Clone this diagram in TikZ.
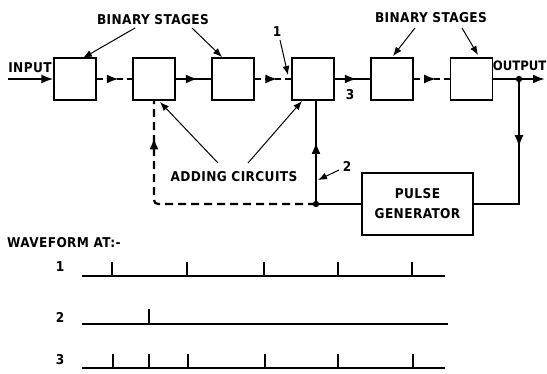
\documentclass[tikz,border=0pt]{standalone}
\usepackage{fontspec}
\newfontfamily\lab[LetterSpace=3]{DejaVu Sans Condensed Bold}
\newfontfamily\labtight{DejaVu Sans Condensed Bold}
\usetikzlibrary{arrows.meta,decorations.markings}
\begin{document}
\begin{tikzpicture}[x=1pt,y=-1pt,
  box/.style={draw,line width=1.1pt,minimum width=42pt,minimum height=42pt,inner sep=0pt},
  txt/.style={font=\lab\fontsize{13.5}{14}\selectfont,inner sep=0pt},
  conn/.style={line width=2.2pt},
  dconn/.style={line width=2.2pt,dash pattern=on 6pt off 4pt},
  fbdash/.style={line width=2.2pt,dash pattern=on 8pt off 5pt},
  tip/.style={-{Latex[length=9pt,width=7pt]},line width=1pt},
  midarrow/.style={postaction={decorate,decoration={markings,mark=at position #1 with {\arrow{Latex[length=12pt,width=9pt]}}}}},
  wave/.style={line width=1.4pt}
]
\useasboundingbox (0,0) rectangle (547,374);
% boxes
\node[box] (b1) at (75,79) {};
\node[box] (b2) at (154,79) {};
\node[box] (b3) at (233,79) {};
\node[box] (b4) at (313,79) {};
\node[box] (b5) at (392,79) {};
\node[box] (b6) at (471.5,79) {};
\node[draw,line width=1.1pt,minimum width=111pt,minimum height=62pt,inner sep=0pt,align=center,font=\lab\fontsize{13.5}{20}\selectfont] (pg) at (417.5,204) {PULSE\\GENERATOR};
% labels
\node[txt] (inp) at (30,68) {INPUT};
\node[txt,font=\labtight\fontsize{13}{14}\selectfont,anchor=east] (outp) at (546.5,65.5) {OUTPUT};
\node[txt] (binl) at (153,20) {BINARY STAGES};
\node[txt] (binr) at (431,18) {BINARY STAGES};
\node[txt] (add) at (234,177) {ADDING CIRCUITS};
\node[txt] (one) at (277,32) {1};
\node[txt] (two) at (347,166) {2};
\node[txt] (three) at (350,95) {3};
% coordinates
\coordinate (in0) at (8,79);
\coordinate (out1) at (545,79);
\coordinate (j1) at (519,79);
\coordinate (j1d) at (519,204);
\coordinate (j2) at (316,204);
\coordinate (c2) at (154,204);
% main chain
\draw[conn,-{Latex[length=12pt,width=9pt]}] (in0) -- (b1.west);
\draw[dconn,midarrow=0.62] (b1.east) -- (b2.west);
\draw[conn,midarrow=0.62] (b2.east) -- (b3.west);
\draw[dconn,midarrow=0.62] (b3.east) -- (b4.west);
\draw[conn,midarrow=0.62] (b4.east) -- (b5.west);
\draw[dconn,midarrow=0.62] (b5.east) -- (b6.west);
\draw[conn,-{Latex[length=12pt,width=9pt]}] (b6.east) -- (out1);
% feedback
\draw[conn,midarrow=0.4] (j1) -- (j1d) -- (pg.east);
\draw[conn] (pg.west) -- (j2);
\draw[conn,midarrow=0.6] (j2) -- (j2 |- b4.south);
\draw[fbdash,rounded corners=4pt,midarrow=0.86] (j2) -- (c2) -- (b2.south);
\fill (j1) circle (3.2pt);
\fill (j2) circle (3.2pt);
% label arrows
\coordinate (a1) at (135,28); \coordinate (a1t) at (83,58);
\coordinate (a2) at (192,28); \coordinate (a2t) at (222,57);
\coordinate (a3) at (415,28); \coordinate (a3t) at (393,56);
\coordinate (a4) at (462,28); \coordinate (a4t) at (478,55);
\draw[tip] (a1) -- (a1t);
\draw[tip] (a2) -- (a2t);
\draw[tip] (a3) -- (a3t);
\draw[tip] (a4) -- (a4t);
\coordinate (a5) at (218,163); \coordinate (a5t) at (160,102);
\coordinate (a6) at (248,163); \coordinate (a6t) at (302,101);
\draw[tip] (a5) -- (a5t);
\draw[tip] (a6) -- (a6t);
\coordinate (a7) at (280,40); \coordinate (a7t) at (288,75);
\draw[tip] (a7) -- (a7t);
\coordinate (a8) at (339,170); \coordinate (a8t) at (318,180);
\draw[tip] (a8) -- (a8t);
% waveforms
\node[txt,anchor=west] (wf) at (7,243) {WAVEFORM AT:-};
\node[txt] (w1) at (60,267) {1};
\node[txt] (w2) at (60,317) {2};
\node[txt] (w3) at (60,360) {3};
\draw[wave] (82,276) -- (445,276);
\foreach \x in {112,187,264,338,412} \draw[wave] (\x,276) -- (\x,262);
\draw[wave] (82,324) -- (448,324);
\draw[wave] (149,324) -- (149,309);
\draw[wave] (82,368) -- (445,368);
\foreach \x in {113,149,188,265,338,413} \draw[wave] (\x,368) -- (\x,354);
\end{tikzpicture}
\end{document}
